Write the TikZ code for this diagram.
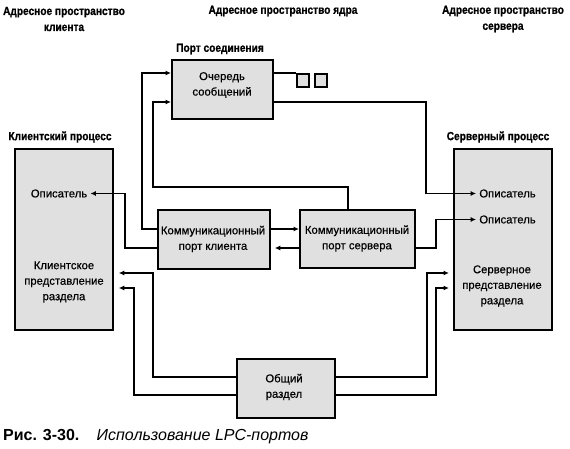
\documentclass[tikz,border=0pt]{standalone}
\usepackage{fontspec}
\setmainfont{Liberation Sans}
\newfontfamily\headfont[FakeStretch=0.86,FakeBold=0.8]{Liberation Sans}
\newfontfamily\bodyfont[FakeBold=0.5]{Liberation Sans}
\usetikzlibrary{arrows.meta,calc}
\begin{document}
\begin{tikzpicture}[x=1bp,y=-1bp,
  box/.style={draw,line width=1.8bp,fill=black!12,inner sep=0,anchor=north west},
  lbl/.style={font=\bodyfont\fontsize{11.3bp}{15.5bp}\selectfont,align=center,inner sep=0},
  desc/.style={font=\bodyfont\fontsize{11.3bp}{15.5bp}\selectfont,inner sep=3bp},
  head/.style={font=\headfont\bfseries\fontsize{11.8bp}{16bp}\selectfont,align=center,inner sep=0},
  conn/.style={line width=1.4bp},
  arr/.style={conn,-{Latex[length=5.5bp,width=5bp]}},
]
\useasboundingbox (0,0) rectangle (570,449);

% headings
\node[head] (h1) at (64,19) {Адресное пространство\\клиента};
\node[head] (h2) at (283,11) {Адресное пространство ядра};
\node[head] (h3) at (503,19) {Адресное пространство\\сервера};
\node[head] (hq) at (220,49) {Порт соединения};
\node[head] (hc) at (60,137) {Клиентский процесс};
\node[head] (hs) at (498,137) {Серверный процесс};

% boxes
\node[box,minimum width=101bp,minimum height=59bp] (queue) at (171,59) {};
\node[box,minimum width=12bp,minimum height=13bp] (sq1) at (296,73) {};
\node[box,minimum width=12bp,minimum height=13bp] (sq2) at (314,73) {};
\node[box,minimum width=112bp,minimum height=59bp] (cport) at (157,209) {};
\node[box,minimum width=115bp,minimum height=58bp] (sport) at (299,209) {};
\node[box,minimum width=98bp,minimum height=181bp] (cproc) at (14,148) {};
\node[box,minimum width=98bp,minimum height=181bp] (sproc) at (453,148) {};
\node[box,minimum width=98bp,minimum height=59bp] (shared) at (236,358) {};

% texts inside boxes
\node[lbl] (qtext) at (222,85) {Очередь\\сообщений};
\node[lbl] (ctext) at (213,239) {Коммуникационный\\порт клиента};
\node[lbl] (stext) at (357,238.5) {Коммуникационный\\порт сервера};
\node[lbl] (shtext) at (284,387) {Общий\\раздел};
\node[desc] (cdesc) at (59,193.5) {Описатель};
\node[lbl] (crep) at (64,282) {Клиентское\\представление\\раздела};
\node[desc] (sdesc1) at (507.5,193.5) {Описатель};
\node[desc] (sdesc2) at (507.5,219.5) {Описатель};
\node[lbl] (srep) at (502,286) {Серверное\\представление\\раздела};

% connectors
\draw[arr] ($(cport.north west)+(0,20)$) -| (142,73) -- ($(queue.north west)+(0,14)$);
\draw[arr] ($(sport.north west)+(49,0)$) |- (153,187) |- ($(queue.north west)+(0,43)$);
\draw[arr] ($(queue.north east)+(0,43)$) -| (426,0 |- sdesc1.west) -- (sdesc1.west);
\draw[conn] ($(queue.north east)+(0,14)$) -- (sq1.north west);
\draw[arr] ($(cport.north east)+(0,20)$) -- ($(sport.north west)+(0,20)$);
\draw[arr,shorten >=4bp] ($(sport.north west)+(0,39)$) -- ($(cport.north east)+(0,39)$);
\draw[arr] ($(cport.north west)+(0,39)$) -| (125,0 |- cdesc.east) -- (cdesc.east);
\draw[arr] ($(sport.north east)+(0,39)$) -| (436,0 |- sdesc2.west) -- (sdesc2.west);
\draw[arr,shorten >=5bp] ($(shared.north west)+(0,19)$) -| (153,273) -- ($(cproc.north east)+(0,125)$);
\draw[arr,shorten >=5bp] ($(shared.north west)+(0,37)$) -| (134,288) -- ($(cproc.north east)+(0,140)$);
\draw[arr,shorten >=4bp] ($(shared.north east)+(0,19)$) -| (427,273) -- ($(sproc.north west)+(0,125)$);
\draw[arr,shorten >=4bp] ($(shared.north east)+(0,37)$) -| (436,288) -- ($(sproc.north west)+(0,140)$);

% caption
\node[anchor=base west,inner sep=0,font=\bfseries\fontsize{16bp}{19bp}\selectfont] (fig) at (3,440) {Рис. 3-30.};
\node[anchor=base west,inner sep=0,font=\itshape\fontsize{16bp}{19bp}\selectfont] (cap) at (96.5,440) {Использование LPC-портов};
\end{tikzpicture}
\end{document}
